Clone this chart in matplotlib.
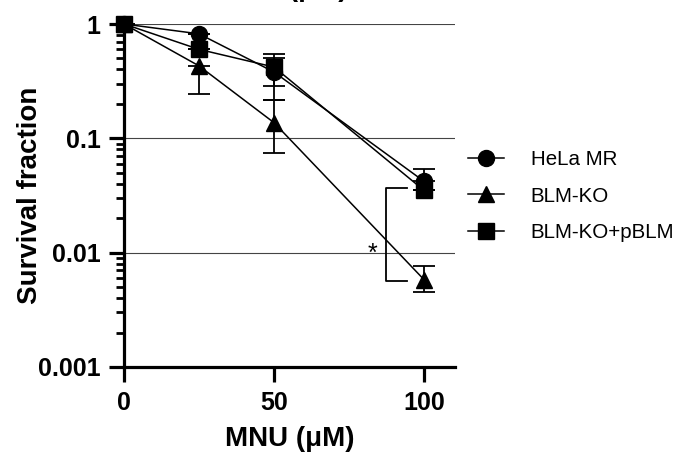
import numpy as np
import matplotlib
matplotlib.use("Agg")
import matplotlib.pyplot as plt
from matplotlib.lines import Line2D
from matplotlib.ticker import LogLocator, NullFormatter, FixedLocator

plt.rcParams['font.family'] = ['Liberation Sans', 'DejaVu Sans']

# data
dose = [0, 25, 50, 100]
hela = [1.0, 0.82, 0.38, 0.042]
hela_lo = [1.0, 0.82, 0.216, 0.042]
hela_hi = [1.0, 0.82, 0.50, 0.054]
blm = [1.0, 0.43, 0.137, 0.0058]
blm_lo = [1.0, 0.245, 0.075, 0.0045]
blm_hi = [1.0, 0.43, 0.215, 0.0076]
pblm = [1.0, 0.60, 0.42, 0.035]
pblm_lo = [1.0, 0.60, 0.287, 0.035]
pblm_hi = [1.0, 0.60, 0.55, 0.035]

labels = ['HeLa MR', 'BLM-KO', 'BLM-KO+pBLM']
markers = ['o', '^', 's']

fig = plt.figure(figsize=(6.79, 4.58), dpi=100)
ax = fig.add_axes([124/679, 1-367/458, 331/679, 343/458])

series = [(hela, hela_lo, hela_hi), (blm, blm_lo, blm_hi), (pblm, pblm_lo, pblm_hi)]
handles = []
for (y, lo, hi), m, lab in zip(series, markers, labels):
    y = np.array(y); lo = np.array(lo); hi = np.array(hi)
    ax.errorbar(dose, y, yerr=[y - lo, hi - y], fmt='-', marker=m, color='black',
                ms=11.5, lw=1.1, elinewidth=1.3, capsize=8, capthick=1.3,
                clip_on=False, zorder=3)
    handles.append(Line2D([], [], color='black', marker=m, ms=11.5, lw=1.1, label=lab))

ax.set_yscale('log')
ax.set_ylim(0.001, 1)
ax.set_xlim(0, 110.3)

ax.yaxis.set_major_locator(FixedLocator([0.001, 0.01, 0.1, 1]))
ax.set_yticklabels(['0.001', '0.01', '0.1', '1'])
ax.yaxis.set_minor_locator(LogLocator(base=10, subs=np.arange(2, 10)))
ax.yaxis.set_minor_formatter(NullFormatter())
ax.set_xticks([0, 50, 100])

for g in [0.01, 0.1, 1]:
    ax.axhline(g, color='#444444', lw=0.8, zorder=1)

for s in ['top', 'right']:
    ax.spines[s].set_visible(False)
for s in ['left', 'bottom']:
    ax.spines[s].set_linewidth(2.3)

ax.tick_params(axis='both', which='major', width=2.3, length=11, labelsize=18, pad=6)
ax.tick_params(axis='y', which='minor', width=2.0, length=6)
for t in ax.get_xticklabels() + ax.get_yticklabels():
    t.set_fontweight('bold')

ax.set_xlabel('MNU (μM)', fontsize=20, fontweight='bold', labelpad=8)
ax.set_ylabel('Survival fraction', fontsize=20, fontweight='bold', labelpad=-4)

# significance bracket
ax.plot([94.3, 87.3, 87.3, 94.3], [0.037, 0.037, 0.0057, 0.0057], color='black', lw=1.3, zorder=2)
ax.text(82.7, 0.0098, '*', fontsize=18, ha='center', va='center')

fig.legend(handles=handles, loc='center left', bbox_to_anchor=(468/679, 1-196/458),
           frameon=False, fontsize=14.8, handlelength=1.75, labelspacing=0.85,
           handletextpad=1.3, borderpad=0, borderaxespad=0)

# cut-off title at the top edge
fig.text(348/679, 1.0 + 4/458, 'MNU (μM)', fontsize=20, fontweight='bold', ha='right', va='baseline')

fig.savefig('out.png', dpi=100)
